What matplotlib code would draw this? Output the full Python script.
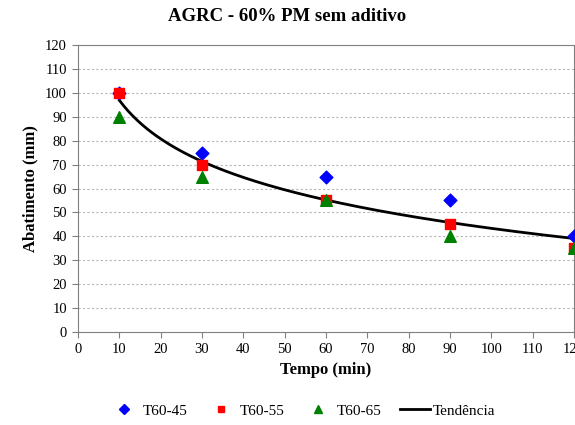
import numpy as np
import matplotlib
matplotlib.use("Agg")
import matplotlib.pyplot as plt
from matplotlib.lines import Line2D

plt.rcParams['font.family'] = ['Liberation Serif', 'DejaVu Serif']

tempo = [10, 30, 60, 90, 120]
t60_45 = [100, 75, 65, 55, 40]
t60_55 = [100, 70, 55, 45, 35]
t60_65 = [90, 65, 55, 40, 35]
xticks = list(range(0, 130, 10))
yticks = list(range(0, 130, 10))

fig = plt.figure(figsize=(5.75, 4.25), dpi=100)
ax = fig.add_axes([0.1357, 0.2188, 0.8626, 0.6753])

ax.scatter(tempo, t60_45, marker='D', s=42, color='#0000FF', zorder=3, label='T60-45')
ax.scatter(tempo, t60_55, marker='s', s=42, color='#FF0000', zorder=4, label='T60-55')
ax.scatter(tempo, t60_65, marker='^', s=70, color='#008000', zorder=5, label='T60-65')

# logarithmic trendline (least squares over all series)
xs_all = np.array(tempo * 3, dtype=float)
ys_all = np.array(t60_45 + t60_55 + t60_65, dtype=float)
b, a = np.polyfit(np.log(xs_all), ys_all, 1)
xx = np.linspace(min(tempo), max(tempo), 200)
ax.plot(xx, a + b * np.log(xx), color='black', lw=2, zorder=2, label='Tendência')

ax.set_xlim(0, 120)
ax.set_ylim(0, 120)
ax.set_xticks(xticks)
ax.set_yticks(yticks)
ax.tick_params(labelsize=10.5, direction='out', length=4, color='#808080', pad=4)
ax.yaxis.grid(True, linestyle=(0, (2, 2)), color='#B8B8B8', lw=0.8)
ax.set_axisbelow(True)
for s in ax.spines.values():
    s.set_color('#808080')

ax.set_xlabel('Tempo (min)', fontsize=12, fontweight='bold', labelpad=4)
ax.set_ylabel('Abatimento (mm)', fontsize=12, fontweight='bold', labelpad=5)
fig.text(0.5, 0.962, 'AGRC - 60% PM sem aditivo', ha='center', va='center',
         fontsize=13.5, fontweight='bold')

handles = [
    Line2D([], [], marker='D', color='#0000FF', ls='none', ms=5),
    Line2D([], [], marker='s', color='#FF0000', ls='none', ms=5),
    Line2D([], [], marker='^', color='#008000', ls='none', ms=6),
    Line2D([], [], color='black', lw=2),
]
fig.legend(handles, ['T60-45', 'T60-55', 'T60-65', 'Tendência'], loc='center',
           bbox_to_anchor=(0.526, 0.033), ncol=4, frameon=False, fontsize=11,
           handlelength=2.0, columnspacing=1.2, handletextpad=0.2)

fig.savefig('out.png', dpi=100)
